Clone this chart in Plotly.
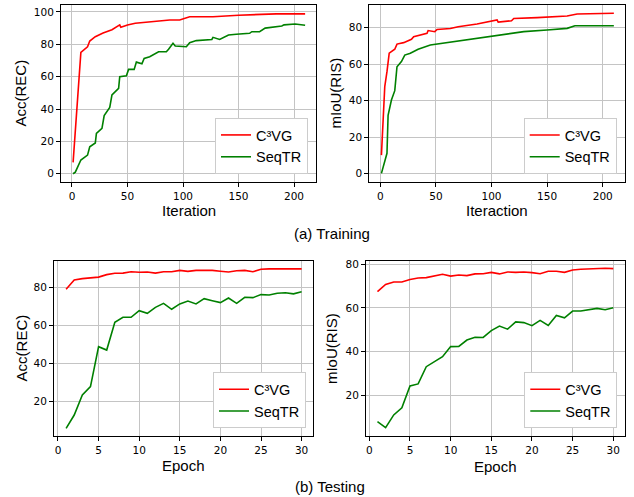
import plotly.graph_objects as go

# ---------------- data ----------------
# (a) Training, REC accuracy
rec_train_c3vg_iter = [1, 4, 6, 8, 14, 16, 21, 28, 36, 43, 44, 50, 57, 70, 88, 97, 106, 127, 150, 184, 210]
rec_train_c3vg_val = [7, 39, 54, 75, 78.5, 82, 84.7, 87, 89, 92, 90.5, 92, 93, 94, 95, 95, 97, 97, 98, 98.8, 98.8]
rec_train_seqtr_iter = [1, 3, 8, 14, 16, 21, 22, 27, 29, 34, 36, 42, 43, 49, 51, 56, 58, 63, 65, 70,
                        78, 85, 87, 91, 93, 103, 106, 112, 126, 127, 133, 141, 148, 160, 162, 169,
                        174, 184, 189, 191, 201, 210]
rec_train_seqtr_val = [0, 1, 8.5, 11.5, 16.7, 19, 25, 28, 36, 41, 48.7, 52.8, 60, 60.6, 64.5, 64.5, 69, 68, 71.3, 72.3,
                       75.4, 75.4, 77, 80.6, 79, 78.5, 81, 82.3, 83, 84.3, 83, 85.8, 86.2, 86.8, 87.8, 87.8,
                       90, 91, 91.3, 92, 92.6, 91.8]

# (a) Training, RIS mIoU
ris_train_c3vg_iter = [1, 3, 4, 6, 8, 13, 15, 21, 28, 30, 36, 42, 43, 49, 51, 63, 70, 87, 105, 106, 118, 120, 141, 168, 177, 198, 210]
ris_train_c3vg_val = [10.2, 40.4, 47.7, 55.9, 66, 68.2, 71, 71.8, 73.6, 75, 76, 76.9, 78.4, 77.8, 79, 79.5, 80.5, 82, 84.2, 83,
                      83.8, 85, 85.5, 86.4, 87.5, 87.9, 87.9]
ris_train_seqtr_iter = [1, 6, 7, 10, 13, 15, 19, 22, 27, 34, 45, 66, 87, 108, 129, 150, 168, 175, 210]
ris_train_seqtr_val = [0.2, 11.2, 32, 40.4, 45.5, 58.6, 61.4, 65, 66, 68.2, 70.5, 72.3, 74.2, 76, 77.8, 78.7, 79.6, 81, 81]

# (b) Testing
epochs = list(range(1, 31))
rec_test_c3vg = [78.8, 83.7, 84.4, 84.9, 85.2, 86.5, 87.2, 87.3, 88.0, 87.7, 87.9, 87.3, 88.0, 88.0, 88.7,
                 88.2, 88.7, 88.7, 88.7, 88.3, 87.9, 88.5, 88.7, 88.0, 89.3, 89.5, 89.5, 89.5, 89.5, 89.5]
rec_test_seqtr = [5.8, 12.8, 23.3, 27.7, 48.7, 46.9, 61.5, 64.1, 64.1, 67.6, 66.2, 69.3, 71.4, 68.3, 71.1,
                  72.6, 71.1, 73.9, 72.8, 71.8, 74.2, 71.4, 74.6, 74.4, 76.0, 75.8, 76.7, 77.0, 76.4, 77.5]
ris_test_c3vg = [67.5, 70.8, 71.9, 71.9, 73.0, 73.7, 73.9, 74.6, 75.4, 74.6, 75.1, 74.8, 75.6, 75.7, 76.3,
                 75.6, 76.5, 76.3, 76.5, 76.2, 75.7, 76.8, 76.8, 76.3, 77.4, 77.7, 77.8, 78.2, 78.2, 78.0]
ris_test_seqtr = [7.9, 5.2, 11.0, 14.3, 24.3, 25.2, 33.1, 35.4, 37.7, 42.3, 42.4, 45.3, 46.6, 46.5, 49.6,
                  51.7, 50.3, 53.6, 53.3, 51.9, 54.3, 52.0, 56.6, 55.5, 58.6, 58.6, 59.1, 59.8, 59.2, 60.1]

names = ["C³VG", "SeqTR"]
colors = ["#ff0000", "#008000"]

W, H = 634, 497
def px(x):
    return x / W
def py(y):
    return 1 - y / H

fig = go.Figure()

panels = [
    ([rec_train_c3vg_iter, rec_train_seqtr_iter], [rec_train_c3vg_val, rec_train_seqtr_val], "x", "y", "legend"),
    ([ris_train_c3vg_iter, ris_train_seqtr_iter], [ris_train_c3vg_val, ris_train_seqtr_val], "x2", "y2", "legend2"),
    ([epochs, epochs], [rec_test_c3vg, rec_test_seqtr], "x3", "y3", "legend3"),
    ([epochs, epochs], [ris_test_c3vg, ris_test_seqtr], "x4", "y4", "legend4"),
]
for xs, ys, xa, ya, lg in panels:
    for i in range(2):
        fig.add_trace(go.Scatter(x=xs[i], y=ys[i], mode="lines", name=names[i],
                                 line=dict(color=colors[i], width=1.6),
                                 xaxis=xa, yaxis=ya, legend=lg, showlegend=True))

tickfont = dict(family="DejaVu Sans", size=10.5, color="#000000")
def ax(domain, rng, dtick, anchor):
    return dict(domain=domain, range=rng, dtick=dtick, tick0=0, anchor=anchor,
                showline=True, mirror=True, linecolor="#000000", linewidth=1,
                showgrid=True, gridcolor="#c4c4c4", gridwidth=1, zeroline=False,
                ticks="outside", ticklen=4, tickcolor="#000000", tickwidth=1,
                tickfont=tickfont, automargin=False)

frames = {
    1: (61, 316, 5, 182),
    2: (369.3, 625.3, 5, 182),
    3: (54, 313.3, 260.7, 436),
    4: (366, 625, 260.7, 436),
}
layout = dict(width=W, height=H, margin=dict(l=0, r=0, t=0, b=0),
              paper_bgcolor="white", plot_bgcolor="white", showlegend=True)

xr = {1: [-9.9, 219.8], 2: [-9.9, 220.3], 3: [-0.49, 31.44], 4: [-0.41, 31.44]}
yr = {1: [-5.1, 104.3], 2: [-4.5, 92.4], 3: [1.8, 93.8], 4: [1.35, 81.65]}
xd = {1: 50, 2: 50, 3: 5, 4: 5}
yd = {1: 20, 2: 20, 3: 20, 4: 20}
for k, (l, r, t, b) in frames.items():
    sx = "xaxis" if k == 1 else f"xaxis{k}"
    sy = "yaxis" if k == 1 else f"yaxis{k}"
    layout[sx] = ax([px(l), px(r)], xr[k], xd[k], "y" if k == 1 else f"y{k}")
    layout[sy] = ax([py(b), py(t)], yr[k], yd[k], "x" if k == 1 else f"x{k}")

legfont = dict(family="Liberation Sans, Arial", size=14.5, color="#000000")
leg_pos = {"legend": (308, 174), "legend2": (616.7, 174), "legend3": (306, 428.3), "legend4": (617.3, 428.3)}
for lg, (x, y) in leg_pos.items():
    layout[lg] = dict(x=px(x), y=py(y), xanchor="right", yanchor="bottom",
                      bgcolor="white", bordercolor="#cccccc", borderwidth=1,
                      font=legfont, itemwidth=30, tracegroupgap=0)

fig.update_layout(**layout)

titlefont = dict(family="Liberation Sans, Arial", size=15, color="#000000")
annos = [
    ("Iteration", 188.5, 210, 0),
    ("Iteraction", 497.3, 210, 0),
    ("Epoch", 183.7, 465, 0),
    ("Epoch", 495.5, 466.5, 0),
    ("Acc(REC)", 20, 93.5, -90),
    ("mIoU(RIS)", 335, 93.5, -90),
    ("Acc(REC)", 21, 348.4, -90),
    ("mIoU(RIS)", 331.7, 348.4, -90),
    ("(a) Training", 331.7, 233.3, 0),
    ("(b) Testing", 330, 486.7, 0),
]
for text, x, y, ang in annos:
    fig.add_annotation(text=text, x=px(x), y=py(y), xref="paper", yref="paper",
                       xanchor="center", yanchor="middle", showarrow=False,
                       textangle=ang, font=titlefont)

fig.write_html("out.html", config={"displayModeBar": False},
               post_script="document.body.style.margin='0px';document.body.style.padding='0px';")
